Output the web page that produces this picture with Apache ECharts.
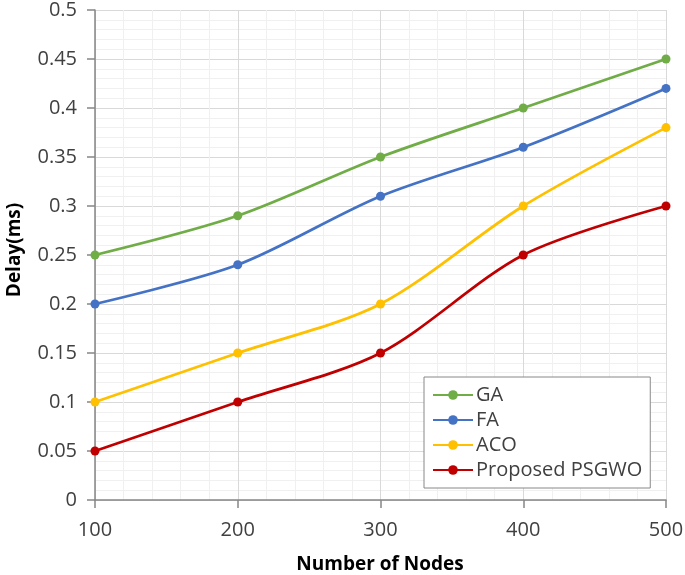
<!DOCTYPE html>
<html><head><meta charset="utf-8">
<script src="https://cdn.jsdelivr.net/npm/echarts@6/dist/echarts.min.js"></script>
<style>html,body{margin:0;padding:0;background:#fff}#c{width:685px;height:575px}</style>
</head><body><div id="c"></div>
<script>
const nodes = [100, 200, 300, 400, 500];
const gaDelay = [0.25, 0.29, 0.35, 0.40, 0.45];
const faDelay = [0.20, 0.24, 0.31, 0.36, 0.42];
const acoDelay = [0.10, 0.15, 0.20, 0.30, 0.38];
const psgwoDelay = [0.05, 0.10, 0.15, 0.25, 0.30];
const seriesNames = ['GA', 'FA', 'ACO', 'Proposed PSGWO'];
const xTitle = 'Number of Nodes';
const yTitle = 'Delay(ms)';
const colors = ['#70ad47', '#4472c4', '#ffc000', '#c00000'];
const allData = [gaDelay, faDelay, acoDelay, psgwoDelay];

const chart = echarts.init(document.getElementById('c'));
const font = '"Open Sans", "Liberation Sans", sans-serif';
chart.setOption({
  animation: false,
  backgroundColor: '#fff',
  grid: { left: 95, right: 19, top: 10, bottom: 75, containLabel: false, outerBoundsMode: 'none' },
  xAxis: {
    type: 'value', min: 100, max: 500, interval: 100,
    axisLine: { lineStyle: { color: '#868686', width: 1.5 } },
    axisTick: { show: true, length: 8, lineStyle: { color: '#868686', width: 1.5 } },
    axisLabel: { fontSize: 20, color: '#404040', margin: 20, fontFamily: font },
    splitLine: { show: true, lineStyle: { color: '#d9d9d9', width: 1 } },
    minorTick: { show: false, splitNumber: 5 },
    minorSplitLine: { show: true, lineStyle: { color: '#f0f0f0', width: 1 } }
  },
  yAxis: {
    type: 'value', min: 0, max: 0.5, interval: 0.05,
    axisLine: { show: true, lineStyle: { color: '#868686', width: 1.5 } },
    axisTick: { show: true, length: 8, lineStyle: { color: '#868686', width: 1.5 } },
    axisLabel: { fontSize: 20, color: '#404040', margin: 18, fontFamily: font,
      formatter: v => String(parseFloat(v.toFixed(2))) },
    splitLine: { show: true, lineStyle: { color: '#d9d9d9', width: 1 } },
    minorTick: { show: false, splitNumber: 5 },
    minorSplitLine: { show: true, lineStyle: { color: '#f0f0f0', width: 1 } }
  },
  graphic: [
    { type: 'text', x: 380, y: 565, style: { text: xTitle, fontSize: 19, fontWeight: 'bold', fill: '#000', fontFamily: font, align: 'center', verticalAlign: 'middle' } },
    { type: 'text', x: 15, y: 250, rotation: Math.PI / 2, style: { text: yTitle, fontSize: 19, fontWeight: 'bold', fill: '#000', fontFamily: font, align: 'center', verticalAlign: 'middle' } }
  ],
  legend: {
    orient: 'vertical', left: 424, top: 377,
    backgroundColor: '#fff', borderColor: '#888', borderWidth: 1,
    padding: [8, 8, 8, 8], itemGap: 5, itemWidth: 40, itemHeight: 12,
    textStyle: { fontSize: 20, lineHeight: 20, color: '#404040', fontFamily: font, padding: [0, 0, 0, -2] },
    data: seriesNames
  },
  series: seriesNames.map((n, i) => ({
    name: n, type: 'line', smooth: 0.3,
    data: nodes.map((x, j) => [x, allData[i][j]]),
    symbol: 'circle', symbolSize: 9,
    lineStyle: { color: colors[i], width: 2.75 },
    itemStyle: { color: colors[i] },
    z: 10 - i
  }))
});
</script></body></html>
